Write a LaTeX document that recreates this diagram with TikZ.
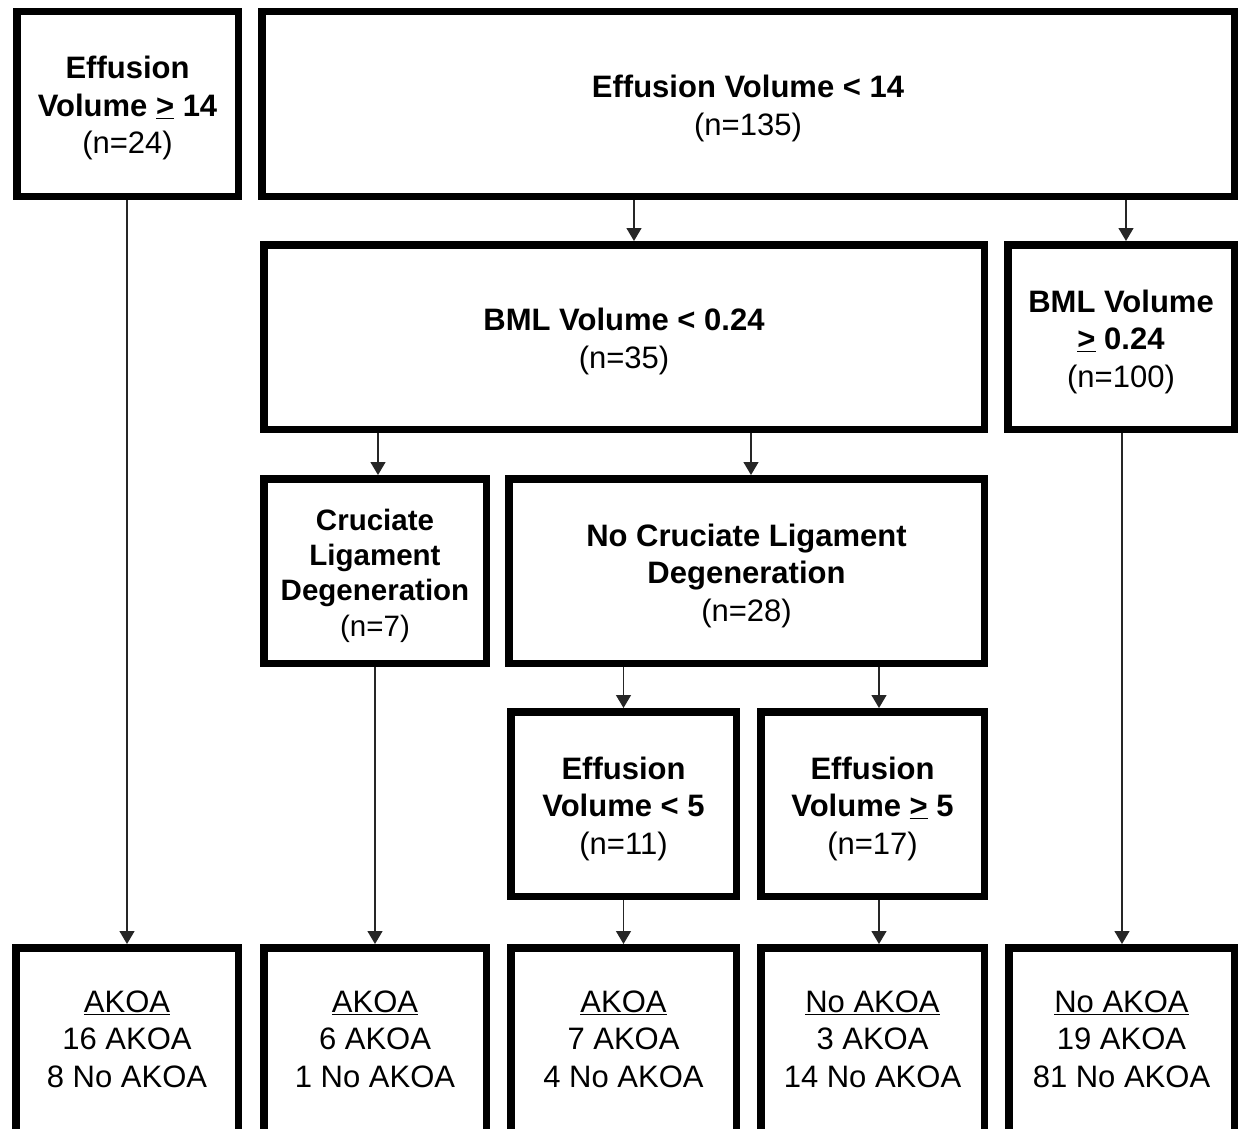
\documentclass[tikz,border=0pt]{standalone}
\usepackage{fontspec}
\setmainfont{Liberation Sans}
\usetikzlibrary{arrows.meta}
\newcommand{\bxt}[2][-5pt]{\raisebox{#1}[\height][\depth]{\begin{tabular}{@{}c@{}}#2\end{tabular}}}
\begin{document}
\begin{tikzpicture}[x=1pt,y=-1pt,
  box/.style={draw=black, line width=7.5pt, fill=white, inner sep=0pt,
    minimum height=184.5pt, font=\fontsize{31}{37.5}\selectfont},
  smallbox/.style={box, font=\fontsize{29.5}{35.3}\selectfont},
  conn/.style={draw=black!85, line width=1.3pt, -{Triangle[width=15pt,length=13pt]}}
]
\useasboundingbox (0,0) rectangle (1240,1129);
\fill[white] (0,0) rectangle (1240,1129);
% row 1
\node[box, minimum width=221.5pt] (A) at (127.5,104) {\bxt{\textbf{Effusion}\\\textbf{Volume \underline{>} 14}\\(n=24)}};
\node[box, minimum width=972.5pt] (B) at (748,104) {\bxt{\textbf{Effusion Volume < 14}\\(n=135)}};
% row 2
\node[box, minimum width=720.5pt] (C) at (624,337) {\bxt{\textbf{BML Volume < 0.24}\\(n=35)}};
\node[box, minimum width=226.5pt] (D) at (1121,337) {\bxt{\textbf{BML Volume}\\\textbf{\underline{>} 0.24}\\(n=100)}};
% row 3
\node[smallbox, minimum width=222.5pt] (E) at (375,571) {\bxt{\textbf{Cruciate}\\\textbf{Ligament}\\\textbf{Degeneration}\\(n=7)}};
\node[box, minimum width=475.5pt] (F) at (746.5,571) {\bxt{\textbf{No Cruciate Ligament}\\\textbf{Degeneration}\\(n=28)}};
% row 4
\node[box, minimum width=225.5pt] (G) at (623.5,804) {\bxt{\textbf{Effusion}\\\textbf{Volume < 5}\\(n=11)}};
\node[box, minimum width=223.5pt] (H) at (872.5,804) {\bxt{\textbf{Effusion}\\\textbf{Volume \underline{>} 5}\\(n=17)}};
% row 5
\node[box, minimum width=222.5pt] (I) at (127,1040) {\bxt[-2pt]{\underline{AKOA}\\16 AKOA\\8 No AKOA}};
\node[box, minimum width=222.5pt] (J) at (375,1040) {\bxt[-2pt]{\underline{AKOA}\\6 AKOA\\1 No AKOA}};
\node[box, minimum width=225.5pt] (K) at (623.5,1040) {\bxt[-2pt]{\underline{AKOA}\\7 AKOA\\4 No AKOA}};
\node[box, minimum width=223.5pt] (L) at (872.5,1040) {\bxt[-2pt]{\underline{No AKOA}\\3 AKOA\\14 No AKOA}};
\node[box, minimum width=225.5pt] (M) at (1121.5,1040) {\bxt[-2pt]{\underline{No AKOA}\\19 AKOA\\81 No AKOA}};
% connectors
\draw[conn] ([xshift=10pt]C.north |- B.south) -- ([xshift=10pt]C.north);
\draw[conn] ([xshift=5pt]D.north |- B.south) -- ([xshift=5pt]D.north);
\draw[conn] ([xshift=3pt]E.north |- C.south) -- ([xshift=3pt]E.north);
\draw[conn] ([xshift=4.5pt]F.north |- C.south) -- ([xshift=4.5pt]F.north);
\draw[conn] (G.north |- F.south) -- (G.north);
\draw[conn] ([xshift=6.5pt]H.north |- F.south) -- ([xshift=6.5pt]H.north);
\draw[conn] (I.north |- A.south) -- (I.north);
\draw[conn] (J.north |- E.south) -- (J.north);
\draw[conn] (K.north |- G.south) -- (K.north);
\draw[conn] ([xshift=6.5pt]L.north |- H.south) -- ([xshift=6.5pt]L.north);
\draw[conn] ([xshift=0.5pt]M.north |- D.south) -- ([xshift=0.5pt]M.north);
\end{tikzpicture}
\end{document}
